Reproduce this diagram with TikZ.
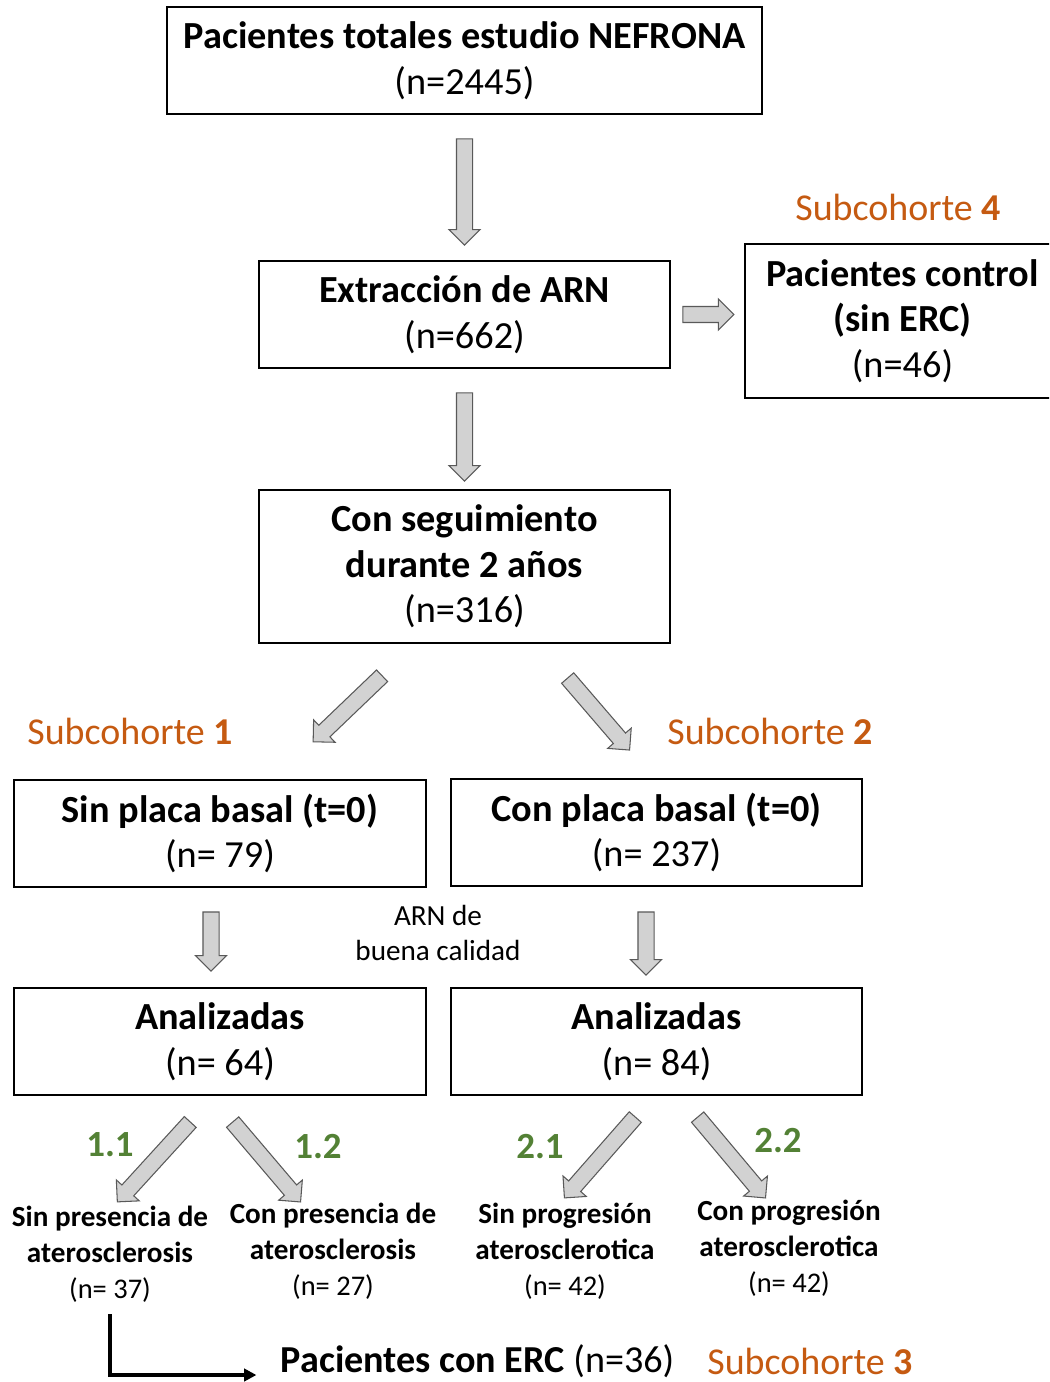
\documentclass[tikz,border=0pt]{standalone}
\usepackage{fontspec}
\setmainfont{Carlito}
\usepackage{xcolor}
\usetikzlibrary{calc,shapes.arrows,arrows.meta}
\definecolor{naranja}{HTML}{C55A11}
\definecolor{verde}{HTML}{538135}
\tikzset{
	caja/.style={
			draw, line width=1.1pt, align=center, inner sep=0pt,
			font=\fontsize{21.8}{26}\selectfont
		},
	flecha/.style={
			single arrow, draw=black!65, fill=gray!35, line width=0.6pt,
			inner xsep=0pt, inner ysep=0.15cm, minimum width=0.6cm,
			single arrow head extend=0.15cm, single arrow head indent=0pt
		},
	sub/.style={text=naranja, inner sep=0pt, font=\fontsize{21.6}{25}\selectfont},
	rama/.style={text=verde, inner sep=0pt, font=\bfseries\fontsize{21}{25}\selectfont},
	hoja/.style={align=center, inner sep=0pt, font=\bfseries\fontsize{16.6}{20.4}\selectfont}
}
\newcommand{\nsmall}[1]{{\mdseries\fontsize{16.2}{20.4}\selectfont #1}}
\newcommand{\flecha}[2]{%
	\path let \p1=(#1), \p2=(#2),
		\n1={atan2(\y2-\y1,\x2-\x1)}, \n2={veclen(\x2-\x1,\y2-\y1)} in
		node[flecha, minimum height=\n2, rotate=\n1] at ($(#1)!0.5!(#2)$) {};}

\begin{document}
\begin{tikzpicture}[x=0.02cm,y=-0.02cm]
        \clip (0,0) rectangle (1049,1382);
        % Cajas
        \node[caja, minimum width=11.9cm, minimum height=2.14cm] (total) at (464.5,60.5)
            {\textbf{Pacientes totales estudio NEFRONA}\\(n=2445)};
        \node[caja, minimum width=8.22cm, minimum height=2.14cm] (arn) at (464.5,314.5)
            {\textbf{Extracción de ARN}\\(n=662)};
        \node[caja, minimum width=6.3cm, minimum height=3.08cm] (control) at (902.5,321)
            {\textbf{Pacientes control}\\\textbf{(sin ERC)}\\(n=46)};
        \node[caja, minimum width=8.22cm, minimum height=3.06cm] (seg) at (464.5,566.5)
            {\textbf{Con seguimiento}\\\textbf{durante 2 años}\\(n=316)};
        \node[caja, minimum width=8.24cm, minimum height=2.14cm] (sinpl) at (220,833.5)
            {\textbf{Sin placa basal (t=0)}\\(n= 79)};
        \node[caja, minimum width=8.22cm, minimum height=2.14cm] (conpl) at (656.5,832.5)
            {\textbf{Con placa basal (t=0)}\\(n= 237)};
        \node[caja, minimum width=8.24cm, minimum height=2.14cm] (anl) at (220,1041.5)
            {\textbf{Analizadas}\\(n= 64)};
        \node[caja, minimum width=8.22cm, minimum height=2.14cm] (anr) at (656.5,1041.5)
            {\textbf{Analizadas}\\(n= 84)};
        % Subcohortes y ramas
        \node[sub] (sub4) at (898,207) {Subcohorte \textbf{4}};
        \node[sub] (sub1) at (130,731) {Subcohorte \textbf{1}};
        \node[sub] (sub2) at (770,731) {Subcohorte \textbf{2}};
        \node[align=center, inner sep=0pt, font=\fontsize{16.6}{20}\selectfont] (calidad) at (438,933)
            {ARN de\\buena calidad};
        \node[rama] (r11) at (110,1145) {1.1};
        \node[rama] (r12) at (318,1147) {1.2};
        \node[rama] (r21) at (540,1147) {2.1};
        \node[rama] (r22) at (778,1141) {2.2};
        % Grupos finales
        \node[hoja] (h11) at (110,1254) {Sin presencia de\\aterosclerosis\\\nsmall{(n= 37)}};
        \node[hoja] (h12) at (333,1251) {Con presencia de\\aterosclerosis\\\nsmall{(n= 27)}};
        \node[hoja] (h21) at (565,1251) {Sin progresión\\aterosclerotica\\\nsmall{(n= 42)}};
        \node[hoja] (h22) at (789,1248) {Con progresión\\aterosclerotica\\\nsmall{(n= 42)}};
        \node[inner sep=0pt, font=\fontsize{21.7}{25}\selectfont] (erc) at (477.5,1361)
            {\textbf{Pacientes con ERC} (n=36)};
        \node[sub] (sub3) at (810,1361) {Subcohorte \textbf{3}};
        % Flechas
        \flecha{$(total.south)+(0,20)$}{$(arn.north)+(0,-19)$}
        \flecha{$(arn.south)+(0,20)$}{$(seg.north)+(0,-12)$}
        \flecha{$(arn.east)+(8,0)$}{$(arn.east)+(59,0)$}
        \flecha{$(seg.south)+(-79.5,29)$}{$(sinpl.north)+(96,-40)$}
        \flecha{$(seg.south)+(100.5,31)$}{$(conpl.north)+(-29.5,-31)$}
        \flecha{$(sinpl.south)+(-9,20)$}{$(anl.north)+(-9,-20)$}
        \flecha{$(conpl.south)+(-10.5,21)$}{$(anr.north)+(-10.5,-16)$}
        \flecha{$(anl.south)+(-27,23)$}{$(anl.south)+(-100,103)$}
        \flecha{$(anl.south)+(10,23)$}{$(anl.south)+(78,103)$}
        \flecha{$(anr.south)+(-18.5,18)$}{$(anr.south)+(-89.5,99)$}
        \flecha{$(anr.south)+(38.5,18)$}{$(anr.south)+(106.5,99)$}
        \draw[line width=2.2pt, -{Triangle[length=7pt,width=7pt]}]
            ($(h11.south)+(0,12)$) |- ($(erc.west)+(-24,14)$);
\end{tikzpicture}
\end{document}
